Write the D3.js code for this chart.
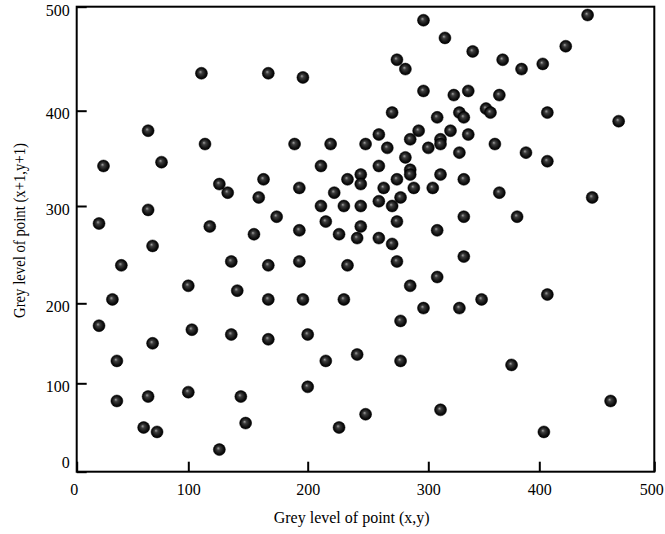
<!DOCTYPE html>
<html>
<head>
<meta charset="utf-8">
<script src="https://cdn.jsdelivr.net/npm/d3@7"></script>
<style>
  body { margin: 0; background: #fff; }
  svg { display: block; font-family: "Liberation Serif", "DejaVu Serif", serif; }
</style>
</head>
<body>
<div id="chart"></div>
<script>
// Grey level of point (x,y)
const pointX = [
  111, 167, 196, 64, 114, 189, 219, 24, 76, 211, 126, 133, 163, 159, 193, 233, 222, 64, 20, 118,
  174, 211, 230, 215, 193, 155, 226, 241,
  296, 315, 340, 274, 281, 367, 384, 403, 423, 442, 296, 323, 336, 364, 270, 308, 328, 332, 352, 356,
  407, 469, 259, 292, 320, 336, 285, 311, 311, 248, 266, 300, 360, 328, 388, 407, 281, 259, 285, 285,
  311, 332, 244, 244, 274, 263, 288, 304, 364, 446, 259, 270, 277, 244, 274, 244, 332, 380, 308, 259, 270,
  68, 40, 136, 167, 193, 233, 100, 141, 32, 167, 196, 230, 20, 103, 136, 167, 200, 68, 36, 215,
  241, 100, 64, 144, 200, 36, 60, 72, 148, 226, 126,
  274, 332, 308, 285, 296, 328, 348, 407, 277, 277, 375, 248, 311, 462, 404
];
// Grey level of point (x+1,y+1)
const pointY = [
  436, 436, 432, 379, 365, 365, 365, 342, 346, 342, 323, 314, 328, 309, 319, 328, 314, 296, 282, 279,
  289, 300, 300, 284, 275, 271, 271, 267,
  487, 470, 457, 449, 440, 449, 440, 445, 462, 492, 419, 415, 419, 415, 398, 393, 398, 393, 402, 398,
  398, 389, 375, 379, 379, 375, 370, 370, 365, 365, 361, 361, 365, 356, 356, 347, 351, 342, 338, 333,
  333, 328, 333, 323, 328, 319, 319, 319, 314, 309, 305, 300, 309, 300, 284, 279, 289, 289, 275, 267, 261,
  259, 239, 243, 239, 243, 239, 218, 213, 204, 204, 204, 204, 172, 167, 161, 155, 161, 150, 128, 128,
  136, 90, 85, 85, 96, 80, 50, 45, 55, 50, 25,
  243, 248, 227, 218, 194, 194, 204, 209, 178, 128, 123, 65, 70, 80, 45
];
const tickValues = [0, 100, 200, 300, 400, 500];
const xTitle = "Grey level of point (x,y)";
const yTitle = "Grey level of point (x+1,y+1)";

const width = 665;
const height = 534;

const svg = d3.select("#chart")
  .append("svg")
  .attr("width", width)
  .attr("height", height);

// the original axes are hand calibrated, so the ticks are not evenly spaced
const x = d3.scaleLinear()
  .domain(tickValues)
  .range([76.7, 188.3, 307.7, 428.3, 539.3, 654.3]);
const y = d3.scaleLinear()
  .domain(tickValues)
  .range([471.7, 383.3, 303.3, 206, 110.7, 6.7]);

// sphere-like marker
const grad = svg.append("defs").append("radialGradient")
  .attr("id", "ball")
  .attr("cx", "50%").attr("cy", "50%").attr("r", "50%")
  .attr("fx", "40%").attr("fy", "38%");
grad.append("stop").attr("offset", "0%").attr("stop-color", "#a0a0a0");
grad.append("stop").attr("offset", "30%").attr("stop-color", "#3c3c3c");
grad.append("stop").attr("offset", "75%").attr("stop-color", "#101010");
grad.append("stop").attr("offset", "100%").attr("stop-color", "#000");

// x axis
const xAxis = svg.append("g")
  .attr("transform", `translate(0,${y(0)})`)
  .call(d3.axisBottom(x).tickValues(tickValues).tickFormat(d3.format("d"))
    .tickSizeInner(-10).tickSizeOuter(0).tickPadding(12));
xAxis.select(".domain").remove();
xAxis.selectAll("line").attr("stroke", "#000").attr("stroke-width", 2);
xAxis.selectAll("text")
  .attr("fill", "#000")
  .attr("font-size", 16)
  .attr("font-family", "Liberation Serif, serif")
  .attr("x", (d) => (d === 0 ? -3 : d === 500 ? -3 : 0));

// y axis
const yAxis = svg.append("g")
  .attr("transform", `translate(${x(0)},0)`)
  .call(d3.axisLeft(y).tickValues(tickValues).tickFormat(d3.format("d"))
    .tickSizeInner(-10).tickSizeOuter(0).tickPadding(7));
yAxis.select(".domain").remove();
yAxis.selectAll("line").attr("stroke", "#000").attr("stroke-width", 2);
yAxis.selectAll("text")
  .attr("fill", "#000")
  .attr("font-size", 16)
  .attr("font-family", "Liberation Serif, serif")
  .attr("y", (d) => (d === 0 ? -9 : d === 500 ? 4 : 3));

// frame
svg.append("rect")
  .attr("x", x(0))
  .attr("y", y(500))
  .attr("width", x(500) - x(0))
  .attr("height", y(0) - y(500))
  .attr("fill", "none")
  .attr("stroke", "#000")
  .attr("stroke-width", 2);

// points
svg.append("g")
  .selectAll("circle")
  .data(d3.zip(pointX, pointY))
  .join("circle")
  .attr("cx", (d) => x(d[0]))
  .attr("cy", (d) => y(d[1]))
  .attr("r", 6)
  .attr("fill", "url(#ball)")
  .attr("stroke", "#000")
  .attr("stroke-width", 0.5);

// axis titles
svg.append("text")
  .attr("x", 351.7)
  .attr("y", 523)
  .attr("text-anchor", "middle")
  .attr("font-size", 16)
  .text(xTitle);

svg.append("text")
  .attr("transform", "translate(25,230.5) rotate(-90)")
  .attr("text-anchor", "middle")
  .attr("font-size", 16)
  .attr("textLength", 175)
  .attr("lengthAdjust", "spacingAndGlyphs")
  .text(yTitle);
</script>
</body>
</html>
